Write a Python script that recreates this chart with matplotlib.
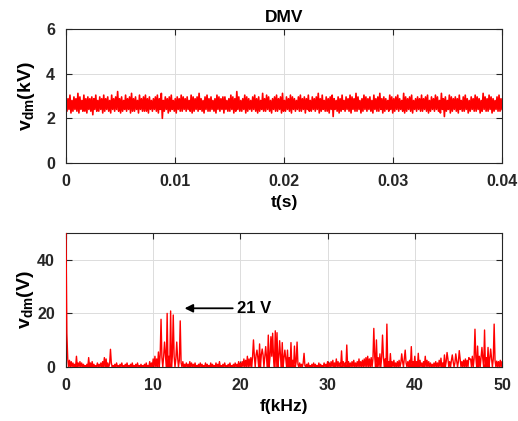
import numpy as np
import matplotlib
matplotlib.use("Agg")
import matplotlib.pyplot as plt

plt.rcParams['font.family'] = ['Liberation Sans', 'DejaVu Sans']
plt.rcParams['font.weight'] = 'bold'
plt.rcParams['mathtext.fontset'] = 'custom'
plt.rcParams['mathtext.rm'] = 'Liberation Sans'
plt.rcParams['mathtext.bf'] = 'Liberation Sans:bold'

# ---- time signal, one hex char per sample: v = 2.0 + 0.08*h (kV)
t_rows = [
    "C4B5D3A4C5B4E3C5A4D4B3C5B4C2B5D4A4C5B3D4",
    "B5C4A3D5B4C5F4B3C4A5D4B5C3E4B4C5A3D5B4C4",
    "D4B3C5A4B5C4D3B5E0A4C5B3C4D5A4B3C5B4D4C5",
    "B4C5A4D3C4B5C4E5B4A3C5D4B4C5A4B3D5C4B5C3",
    "C5A4B4D5C3B4F5C4A4B5D3C4B5A4C5D4B3C4A5E4",
    "B4D5C4A3B5C4D4B5C3E4A4C5B4D3C5B4A5C4D4B5",
    "C3B5D4A4C5B4C5E3B4D5A4C4B3C5D1B5A4C3B4D5",
    "A4C5B4D3C5B4E4C5A3B4D5C4B5C4A3D5B4C4E5B3",
    "C4B5A4D5C3B4C5D4B5A4E3C4B5C4D3A5B4C5B4D4",
    "B5C4D3A4C5B4D5C4A3E5B1C4A5D3C4B5C4B3D5A4",
    "C4D5B3A4C5B4D4C5B3A4E5C4B4D5C3B4A5C4D4B5",
]
t_end = 0.04

# ---- spectrum floor, one digit per 0.1 kHz bin: v = 0.5*d (V)
floor_rows = [
    "0060504030" "2080304030" "2010207030" "4020103020" "3040706030",
    "2030102030" "1020301020" "3010203010" "2030102010" "2030104030",
    "6080608090" "7080909080" "6090806070" "5030402030" "2040302030",
    "1020302010" "3020103020" "1030204010" "2030102030" "1020302040",
    "3040605080" "6070808090" "7080909080" "7090808070" "8060708060",
    "7060807060" "5060402030" "2030102030" "1020302010" "3020103020",
    "4030405030" "6040305040" "3050403040" "5030406040" "5060708060",
    "7060806070" "5070806050" "4030405030" "4050304060" "3040503040",
    "3040305030" "4030504030" "2030403050" "4030504060" "4050403050",
    "4060405060" "5070608060" "7060807060" "6070806070" "6050604050",
    "4",
]
df = 0.1  # kHz

# spectral lines (kHz, V)
peak_f = [0.0, 0.1, 5.1,
          10.6, 10.9, 11.3, 11.6, 12.0, 12.3, 12.7, 13.1,
          21.5, 21.9, 22.2, 22.5, 22.9, 23.2, 23.5, 23.7, 24.0, 24.2,
          24.5, 24.8, 25.1, 25.4, 25.8, 26.2, 26.5, 27.3,
          31.6, 32.2,
          35.3, 35.6, 36.0, 36.3, 36.8, 37.2, 38.5, 38.9, 39.6, 40.0,
          40.4, 41.2, 43.0, 43.4, 43.7, 44.3, 44.7, 45.1,
          46.3, 46.9, 47.2, 47.7, 48.0, 48.4, 48.7, 49.1, 49.4]
peak_v = [50.0, 12.6, 6.6,
          5.6, 17.8, 9.3, 20.0, 20.9, 19.4, 9.3, 17.2,
          10.1, 6.3, 8.6, 6.7, 7.6, 11.9, 11.3, 12.6, 13.5, 12.8,
          9.8, 9.1, 6.3, 6.3, 9.1, 7.8, 9.3, 5.1,
          6.0, 8.2,
          14.4, 10.1, 4.9, 11.9, 16.0, 5.0, 4.9, 6.3, 7.6, 4.0,
          5.1, 4.0, 3.3, 4.5, 5.4, 4.5, 4.9, 6.1,
          2.9, 14.1, 7.8, 7.3, 13.8, 7.3, 6.7, 16.0, 2.2]

# build series
t_str = "".join(t_rows)
vt = np.array([int(c, 16) for c in t_str]) * 0.08 + 2.0
t = np.linspace(0, t_end, len(vt))

f_str = "".join(floor_rows)
vf = np.array([int(c) for c in f_str]) * 0.5
f = np.arange(len(vf)) * df
for pf, pv in zip(peak_f, peak_v):
    vf[int(round(pf / df))] = pv

fig = plt.figure(figsize=(5.18, 4.21), dpi=100)
ax1 = fig.add_axes([0.1274, 0.6128, 0.8417, 0.3183])
ax2 = fig.add_axes([0.1274, 0.1283, 0.8417, 0.3183])

ax1.plot(t, vt, color='red', lw=1.2)
ax1.set_xlim(0, 0.04)
ax1.set_ylim(0, 6)
ax1.set_xticks([0, 0.01, 0.02, 0.03, 0.04])
ax1.set_xticklabels(['0', '0.01', '0.02', '0.03', '0.04'])
ax1.set_yticks([0, 2, 4, 6])
ax1.set_title('DMV', fontsize=12.5, fontweight='bold', pad=5)
ax1.set_xlabel('t(s)', fontsize=12.5, fontweight='bold', labelpad=4)
ax1.set_ylabel(r'$\mathbf{v_{dm}}$(kV)', fontsize=14, fontweight='bold')

ax2.plot(f, vf, color='red', lw=1.0, zorder=3)
ax2.set_xlim(0, 50)
ax2.set_ylim(0, 50)
ax2.set_xticks([0, 10, 20, 30, 40, 50])
ax2.set_yticks([0, 20, 40])
ax2.set_xlabel('f(kHz)', fontsize=12.5, fontweight='bold', labelpad=4)
ax2.set_ylabel(r'$\mathbf{v_{dm}}$(V)', fontsize=14, fontweight='bold')
ax2.annotate('21 V', xy=(13.6, 21.9), xytext=(19.6, 21.9),
             fontsize=12, fontweight='bold', ha='left', va='center',
             arrowprops=dict(arrowstyle='-|>', color='black', lw=1.3,
                             mutation_scale=12, shrinkA=1, shrinkB=0))

ax1.yaxis.set_label_coords(-0.066, 0.5)
ax2.yaxis.set_label_coords(-0.068, 0.5)

for ax in (ax1, ax2):
    ax.grid(True, color='#dcdcdc', lw=0.7)
    ax.set_axisbelow(True)
    ax.tick_params(direction='in', top=True, right=True, length=4,
                   labelsize=11.5, colors='#262626', width=0.8, pad=8)
    for s in ax.spines.values():
        s.set_color('#262626')
        s.set_linewidth(0.8)

fig.savefig('out.png', dpi=100)
